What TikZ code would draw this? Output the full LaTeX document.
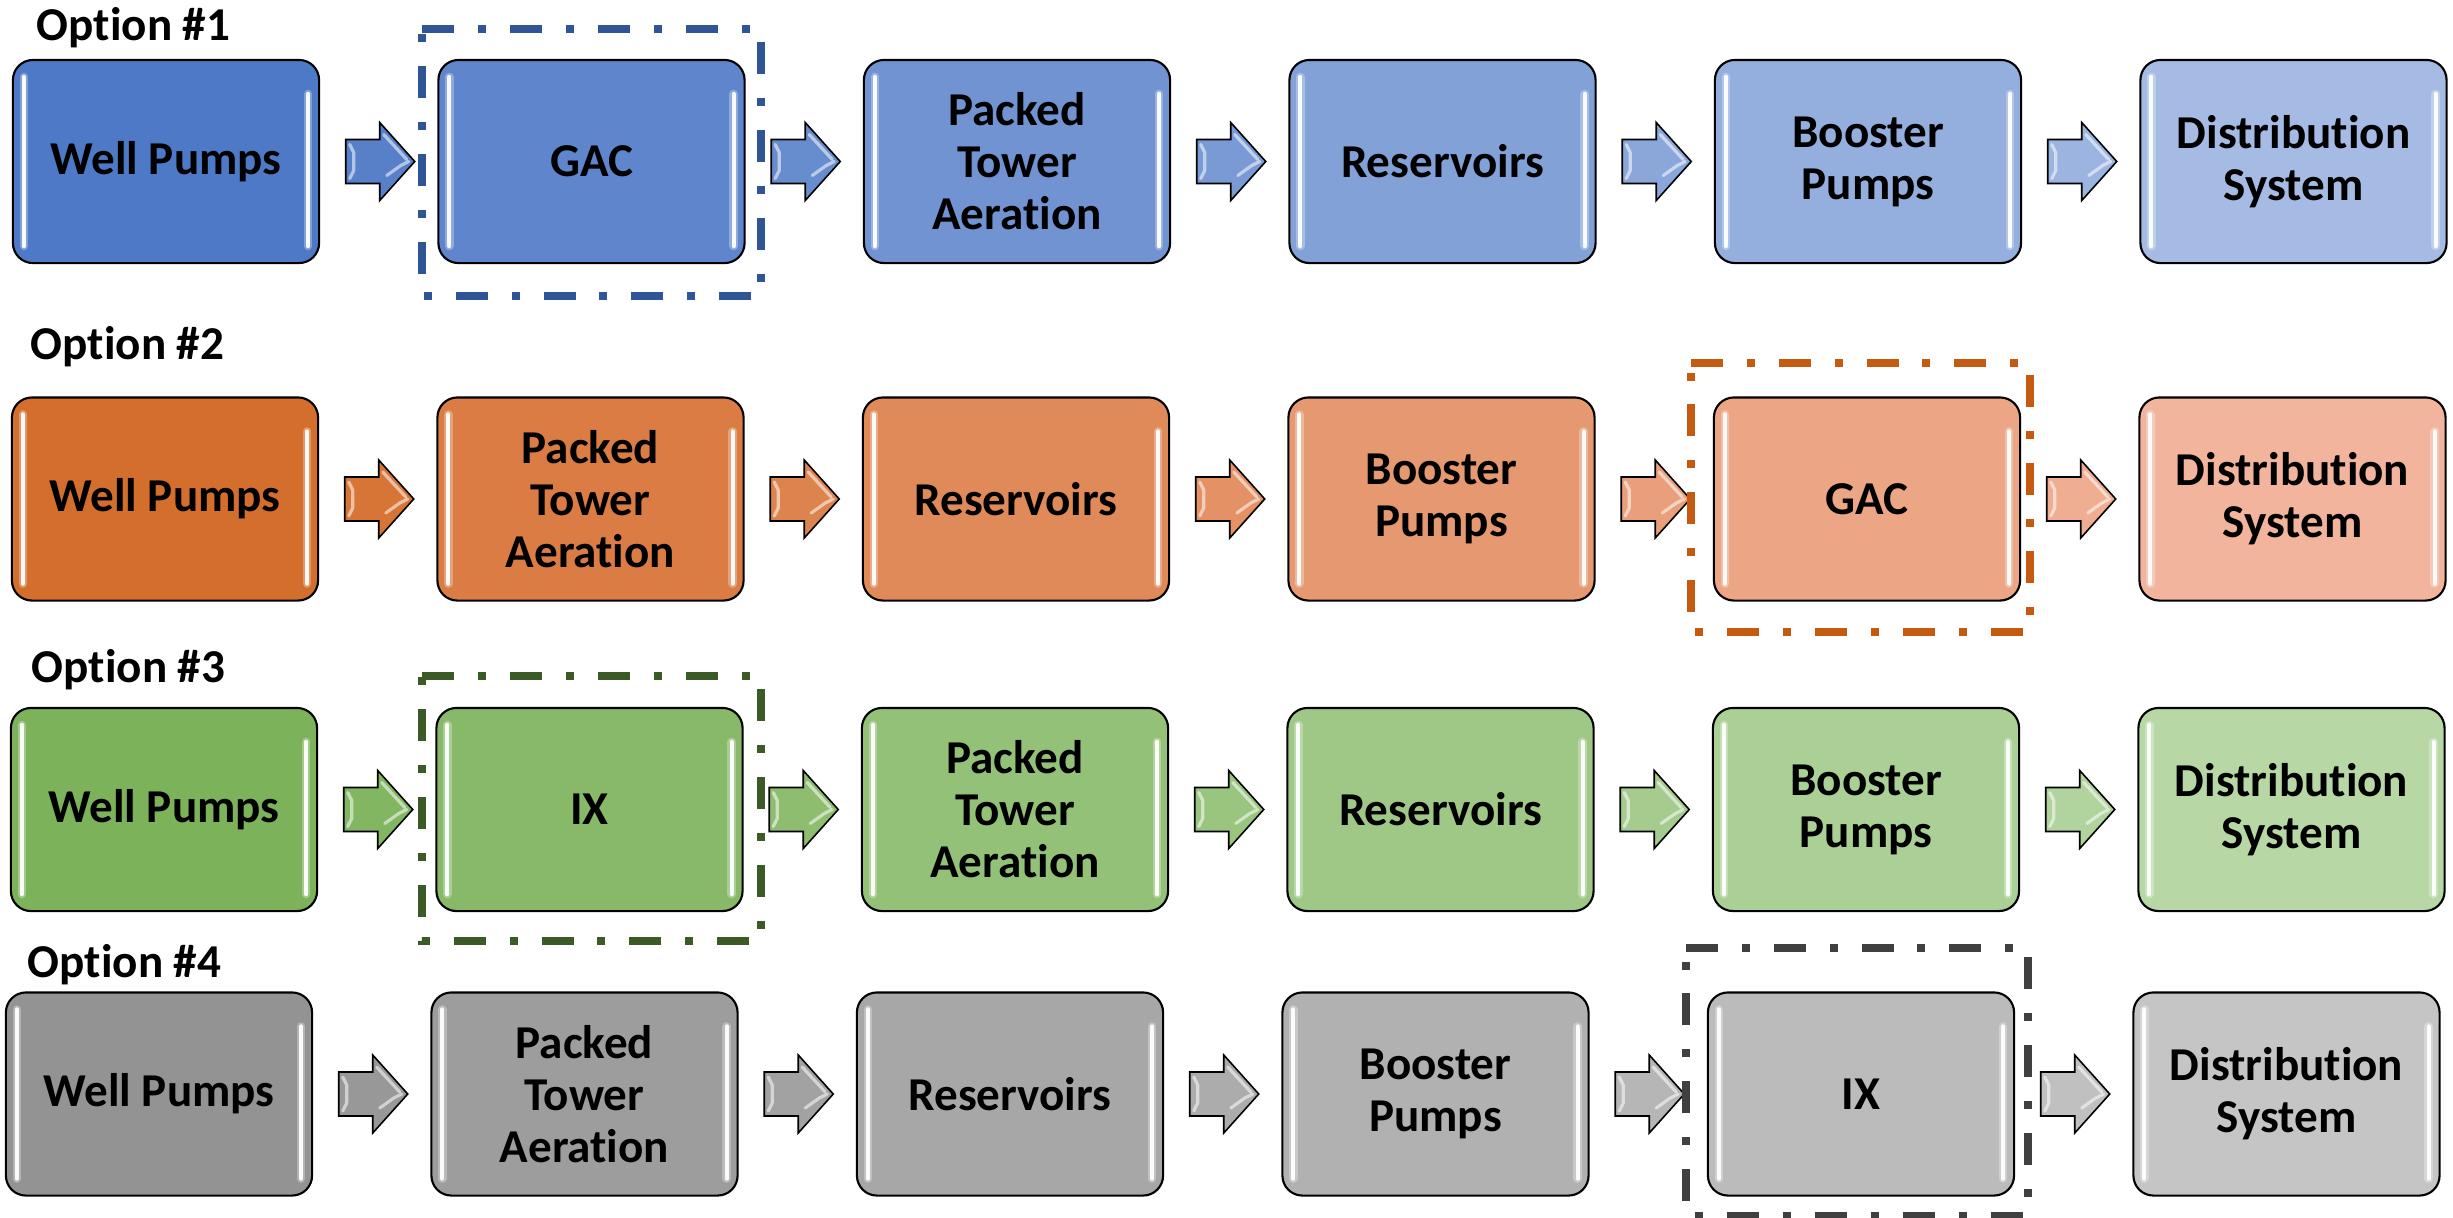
\documentclass[tikz,border=0pt]{standalone}
\usepackage{fontspec}
\setmainfont[Ligatures=NoCommon]{Carlito}
\usetikzlibrary{calc}

\definecolor{sA1}{HTML}{4E79C6}\definecolor{eA1}{HTML}{A5BBE3}\definecolor{dA1}{HTML}{2F5597}
\definecolor{sA2}{HTML}{D46E2C}\definecolor{eA2}{HTML}{F2B49D}\definecolor{dA2}{HTML}{C55A11}
\definecolor{sA3}{HTML}{7CB25A}\definecolor{eA3}{HTML}{B7D7A4}\definecolor{dA3}{HTML}{3B5A26}
\definecolor{sA4}{HTML}{939393}\definecolor{eA4}{HTML}{C5C5C5}\definecolor{dA4}{HTML}{404040}

\tikzset{
  x=0.01cm, y=-0.01cm,
  procbox/.style={draw=black, line width=0.6pt, rounded corners=0.2cm,
    minimum width=3.06cm, minimum height=2.03cm, inner sep=0pt, align=center,
    font=\fontsize{13.4}{14.8}\selectfont\bfseries},
  optlabel/.style={anchor=base west, inner sep=0pt,
    font=\fontsize{13.4}{14.8}\selectfont\bfseries},
  hlglow/.style={draw=white, line width=2.4pt, line cap=round, opacity=0.3},
  hl/.style={draw=white, line width=1.2pt, line cap=round, opacity=0.95},
  selbox/.style={line width=2.28pt, dash pattern=on 9.1pt off 6.8pt on 2.28pt off 6.8pt},
  blockarrow/.style={draw=black, line width=0.45pt, line join=miter},
  arrhl/.style={draw=white, line width=0.9pt, opacity=0.55, line cap=round, line join=round},
}

\newcommand\procrow[9]{%
  \foreach \k/\lab in {0/{#4},1/{#5},2/{#6},3/{#7},4/{#8},5/{#9}}{%
    \pgfmathtruncatemacro\pc{\k*20}%
    \colorlet{fillc}{rowend!\pc!rowstart}%
    \node[procbox, fill=fillc] (#1n\k) at ({#3+153+\k*425.5},#2) {\lab};
    \draw[hlglow] ($(#1n\k.north west)+(12,18)$) -- ($(#1n\k.south west)+(12,-18)$);
    \draw[hlglow] ($(#1n\k.north east)+(-12,35)$) -- ($(#1n\k.south east)+(-12,-18)$);
    \draw[hl] ($(#1n\k.north west)+(12,18)$) -- ($(#1n\k.south west)+(12,-18)$);
    \draw[hl] ($(#1n\k.north east)+(-12,35)$) -- ($(#1n\k.south east)+(-12,-18)$);
  }%
  \foreach \k in {0,...,4}{%
    \pgfmathtruncatemacro\j{\k+1}%
    \pgfmathtruncatemacro\pc{\k*20+10}%
    \colorlet{arrc}{rowend!\pc!rowstart}%
    \begin{scope}[shift={($(#1n\k.east)!0.5!(#1n\j.west)$)}]
      \draw[blockarrow, fill=arrc] (-33,-22) -- (1,-22) -- (1,-39) -- (36,0)
        -- (1,39) -- (1,22) -- (-33,22) -- cycle;
      \draw[arrhl] (-29,-17) -- (-25,-9) -- (-25,9) -- (-29,17);
      \draw[arrhl] (8,14) -- (22,4) -- (30,0);
      \draw[arrhl] (5,-27) -- (28,-2);
    \end{scope}
  }%
}

\newcommand\selrect[6]{%
  \draw[selbox, draw=#2] ($(#1.north west)+(-#3,-#5)$) -- ($(#1.north east)+(#4,-#5)$)
    -- ($(#1.south east)+(#4,#6)$) -- ($(#1.south west)+(-#3,#6)$) -- cycle;
}

\begin{document}
\begin{tikzpicture}
\useasboundingbox[fill=white] (0,0) rectangle (2453,1217);

% Option 1
\node[optlabel] (opt1) at (36,40) {Option \#1};
\colorlet{rowstart}{sA1}\colorlet{rowend}{eA1}
\procrow{r1}{161.5}{13}{Well Pumps}{GAC}{Packed\\Tower\\Aeration}{Reservoirs}{Booster\\Pumps}{Distribution\\System}
\selrect{r1n1}{dA1}{15}{15}{30}{32}

% Option 2
\node[optlabel] (opt2) at (30,359) {Option \#2};
\colorlet{rowstart}{sA2}\colorlet{rowend}{eA2}
\procrow{r2}{499}{12}{Well Pumps}{Packed\\Tower\\Aeration}{Reservoirs}{Booster\\Pumps}{GAC}{Distribution\\System}
\selrect{r2n4}{dA2}{22}{9}{33}{30}

% Option 3
\node[optlabel] (opt3) at (31,682) {Option \#3};
\colorlet{rowstart}{sA3}\colorlet{rowend}{eA3}
\procrow{r3}{809.5}{11}{Well Pumps}{IX}{Packed\\Tower\\Aeration}{Reservoirs}{Booster\\Pumps}{Distribution\\System}
\selrect{r3n1}{dA3}{13}{17}{31}{29}

% Option 4
\node[optlabel] (opt4) at (27,977) {Option \#4};
\colorlet{rowstart}{sA4}\colorlet{rowend}{eA4}
\procrow{r4}{1094}{6}{Well Pumps}{Packed\\Tower\\Aeration}{Reservoirs}{Booster\\Pumps}{IX}{Distribution\\System}
\selrect{r4n4}{dA4}{21}{13}{43}{19}
\end{tikzpicture}
\end{document}
